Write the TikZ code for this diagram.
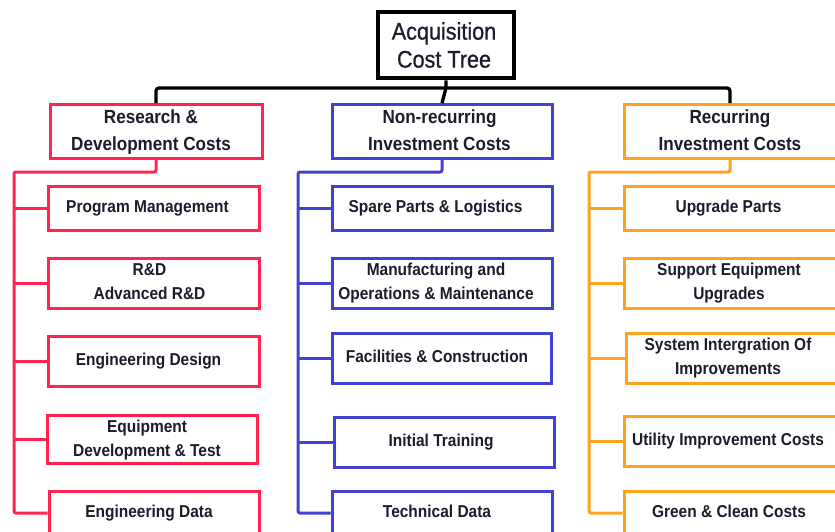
\documentclass[tikz,border=0pt]{standalone}
\usepackage{fontspec}
\setmainfont{Liberation Sans}[FakeStretch=0.9]
\newfontfamily\rootfont{Liberation Sans}[FakeStretch=0.9,FakeBold=0.8]
\definecolor{rdred}{HTML}{FF2452}
\definecolor{nrblue}{HTML}{4242D2}
\definecolor{rcorange}{HTML}{FFA31F}
\definecolor{txt}{HTML}{1C1C2C}
\newcommand\shl[2][8]{\begin{tabular}{@{}c@{}}#2\end{tabular}\kern#1pt}
\begin{document}
\begin{tikzpicture}[x=1pt,y=-1pt,
  box/.style={draw,line width=3pt,inner sep=0pt,align=center,text=txt,
    font=\bfseries\fontsize{17.2}{24}\selectfont},
  head/.style={box,font=\bfseries\fontsize{19}{27}\selectfont,minimum height=53pt},
  redbox/.style={box,draw=rdred},
  bluebox/.style={box,draw=nrblue},
  orabox/.style={box,draw=rcorange},
  redline/.style={draw=rdred,line width=3pt,rounded corners=2pt},
  blueline/.style={draw=nrblue,line width=3pt,rounded corners=2pt},
  oraline/.style={draw=rcorange,line width=3pt,rounded corners=2pt},
  blackline/.style={draw=black,line width=3.3pt,rounded corners=3pt}]
\useasboundingbox (0,0) rectangle (835,531);
\clip (0,0) rectangle (835,531);
\fill[white] (0,0) rectangle (835,531);
% root
\node[draw,line width=4.5pt,minimum width=136pt,minimum height=66pt,inner sep=0pt,
  align=center,text=txt,font=\rootfont\fontsize{24}{28}\selectfont] (root) at (446,45)
  {\raisebox{-3pt}[\height][\depth]{\shl[4]{Acquisition\\Cost Tree}}};
% level 1
\node[head,draw=rdred,minimum width=212pt] (rd) at (156,131.5) {\shl[10]{Research \&\\Development Costs}};
\node[head,draw=nrblue,minimum width=220pt] (nr) at (442,131.5) {\shl[5]{Non-recurring\\Investment Costs}};
\node[head,draw=rcorange,minimum width=212pt] (rc) at (730,131.5) {\shl[0]{Recurring\\Investment Costs}};
\coordinate (bus) at (446,88);
\draw[blackline] (rd.north) |- (bus) -| (rc.north);
\draw[blackline] (root.south) -- (bus) -- (nr.north);
% red children
\node[redbox,minimum width=211pt,minimum height=44pt] (pm) at (153.5,208) {\shl[12]{Program Management}};
\node[redbox,minimum width=211pt,minimum height=50pt] (rnd) at (153.5,283) {\shl[8]{R\&D\\Advanced R\&D}};
\node[redbox,minimum width=211pt,minimum height=50pt] (ed) at (153.5,361) {\shl[10]{Engineering Design}};
\node[redbox,minimum width=210pt,minimum height=47pt] (edt) at (152,439.5) {\shl[10]{Equipment\\Development \& Test}};
\node[redbox,minimum width=210pt,minimum height=44pt] (edata) at (154,513) {\shl[10]{Engineering Data}};
\coordinate (rbus) at (14,172);
\draw[redline] (rd.south) |- (rbus) -- (rbus |- edata.west) -- (edata.west);
\foreach \n in {pm,rnd,ed,edt} \draw[redline] (rbus |- \n.west) -- (\n.west);
% blue children
\node[bluebox,minimum width=220pt,minimum height=44pt] (spl) at (442,208) {\shl[13]{Spare Parts \& Logistics}};
\node[bluebox,minimum width=220pt,minimum height=50pt] (mom) at (442,283) {\shl[12]{Manufacturing and\\Operations \& Maintenance}};
\node[bluebox,minimum width=219pt,minimum height=50pt] (fc) at (441.5,358) {\shl[9]{Facilities \& Construction}};
\node[bluebox,minimum width=220pt,minimum height=50pt] (it) at (444,442) {\shl[6]{Initial Training}};
\node[bluebox,minimum width=220pt,minimum height=44pt] (td) at (442,513) {\shl[10]{Technical Data}};
\coordinate (bbus) at (298,172);
\draw[blueline] (nr.south) |- (bbus) -- (bbus |- td.west) -- (td.west);
\foreach \n in {spl,mom,fc,it} \draw[blueline] (bbus |- \n.west) -- (\n.west);
% orange children
\node[orabox,minimum width=214pt,minimum height=44pt] (up) at (731,208) {\shl[5]{Upgrade Parts}};
\node[orabox,minimum width=214pt,minimum height=50pt] (seu) at (731,283) {\shl[4]{Support Equipment\\Upgrades}};
\node[orabox,minimum width=214pt,minimum height=50pt] (sio) at (733,358) {\shl[10]{System Intergration Of\\Improvements}};
\node[orabox,minimum width=214pt,minimum height=50pt] (uic) at (731,441) {\shl[6]{Utility Improvement Costs}};
\node[orabox,minimum width=214pt,minimum height=44pt] (gcc) at (731,513) {\shl[4]{Green \& Clean Costs}};
\coordinate (obus) at (589,172);
\draw[oraline] (rc.south) |- (obus) -- (obus |- gcc.west) -- (gcc.west);
\foreach \n in {up,seu,sio,uic} \draw[oraline] (obus |- \n.west) -- (\n.west);
\end{tikzpicture}
\end{document}
